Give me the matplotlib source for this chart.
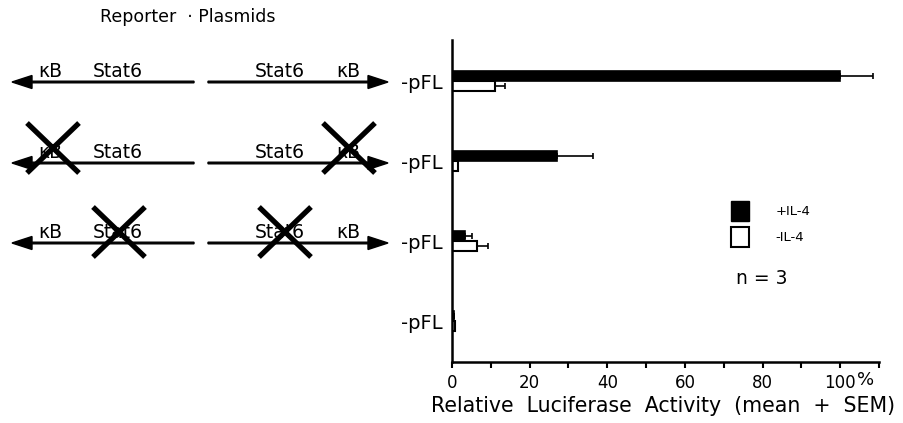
import matplotlib.pyplot as plt
from matplotlib.patches import Patch

plt.rcParams["font.family"] = ["DejaVu Sans"]

# values, rows from top to bottom
row_labels = ["-pFL", "-pFL", "-pFL", "-pFL"]
plus_il4 = [100, 27, 3.3, 0.4]
plus_il4_sem = [8.4, 9.2, 1.8, 0]
minus_il4 = [11.1, 1.6, 6.4, 0.9]
minus_il4_sem = [2.6, 0, 2.8, 0]
x_ticks = [0, 20, 40, 60, 80, 100]

W, H = 904, 423
fig = plt.figure(figsize=(W / 100, H / 100), dpi=100)

# ---- schematic of the reporter plasmids (pixel coordinates overlay) ----
sk = fig.add_axes([0, 0, 1, 1])
sk.set_xlim(0, W)
sk.set_ylim(H, 0)
sk.axis("off")

sk.text(100, 17, "Reporter  · Plasmids", fontsize=12.5, va="center", ha="left")

row_y = [82, 163, 243]
for y in row_y:
    sk.arrow(194, y, -182, 0, width=1.6, head_width=13, head_length=20,
             length_includes_head=True, color="black")
    sk.arrow(208, y, 180, 0, width=1.6, head_width=13, head_length=20,
             length_includes_head=True, color="black")
    for x, s in [(50, "κB"), (118, "Stat6"), (280, "Stat6"), (348, "κB")]:
        sk.text(x, y - 5, s, fontsize=13.5, ha="center", va="baseline")

# crossed-out (mutated) sites: (x centre, y centre)
crosses = [(53, 148), (349, 148), (119, 232), (285, 232)]
for cx, cy in crosses:
    sk.plot([cx - 26, cx + 26], [cy - 25, cy + 25], color="black", lw=3.8,
            solid_capstyle="butt")
    sk.plot([cx - 26, cx + 26], [cy + 25, cy - 25], color="black", lw=3.8,
            solid_capstyle="butt")

# ---- bar chart ----
ax = fig.add_axes([452 / W, 1 - 362 / H, (879 - 452) / W, (362 - 40) / H])
pos = [3 - i for i in range(len(row_labels))]
h = 0.125
pos_plus = [p + h / 2 for p in pos]
pos_minus = [p - h / 2 for p in pos]

ax.barh(pos_plus, plus_il4, height=h, color="black", edgecolor="black",
        linewidth=1.2, label="+IL-4")
ax.barh(pos_minus, minus_il4, height=h, color="white", edgecolor="black",
        linewidth=1.5, label="-IL-4")
ax.errorbar(plus_il4, pos_plus, xerr=[[0] * 4, plus_il4_sem], fmt="none",
            ecolor="black", elinewidth=1.2, capsize=2.5, capthick=1.2)
ax.errorbar(minus_il4, pos_minus, xerr=[[0] * 4, minus_il4_sem], fmt="none",
            ecolor="black", elinewidth=1.2, capsize=2.5, capthick=1.2)

ax.set_xlim(0, 110)
ax.set_ylim(-0.5125, 3.5125)
ax.set_yticks(pos)
ax.set_yticklabels(row_labels, fontsize=14)
ax.tick_params(axis="y", length=0, pad=7)
ax.set_xticks(x_ticks)
ax.set_xticks(range(10, 111, 20), minor=True)
ax.tick_params(axis="x", which="both", direction="out", length=4.5, width=1.5,
               labelsize=12, pad=4)
ax.text(106.5, -0.74, "%", fontsize=13, ha="center", va="center",
        clip_on=False)
ax.set_xlabel("Relative  Luciferase  Activity  (mean  +  SEM)", fontsize=14.8)
ax.xaxis.set_label_coords(0.495, -0.105)

for side in ["top", "right"]:
    ax.spines[side].set_visible(False)
for side in ["left", "bottom"]:
    ax.spines[side].set_linewidth(1.8)

handles = [Patch(facecolor="black", edgecolor="black", label="+IL-4"),
           Patch(facecolor="white", edgecolor="black", linewidth=1.5, label="-IL-4")]
fig.legend(handles=handles, loc="upper left",
           bbox_to_anchor=(731 / W, 1 - 201 / H), frameon=False, fontsize=9.5,
           handlelength=1.4, handleheight=1.9, handletextpad=2.0,
           labelspacing=0.5, borderpad=0, borderaxespad=0)
fig.text(736 / W, 1 - 278 / H, "n = 3", fontsize=13.5, va="center", ha="left")

fig.savefig("out.png", dpi=100)
